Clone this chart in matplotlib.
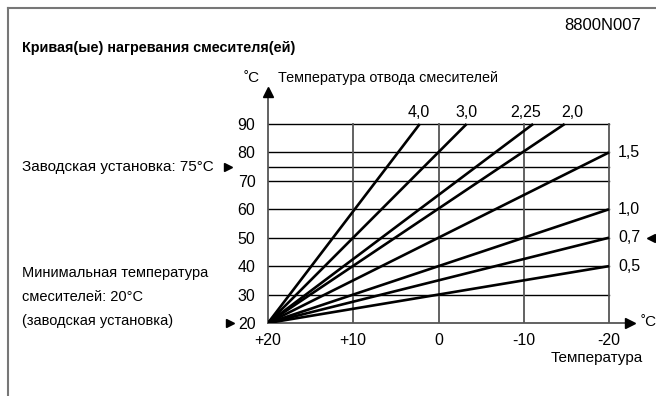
import matplotlib.pyplot as plt
from matplotlib.lines import Line2D

plt.rcParams['font.family'] = ['Liberation Sans', 'DejaVu Sans']

# кривые нагрева: подпись, конец линии (наружная темп., темп. подачи)
curve_names = ["4,0", "3,0", "2,25", "2,0", "1,5", "1,0", "0,7", "0,5"]
end_outdoor = [2.2, -3.3, -11.1, -14.8, -20, -20, -20, -20]
end_flow = [90, 90, 90, 90, 80, 60, 50, 40]
start_outdoor = 20
start_flow = 20

x_ticks = [20, 10, 0, -10, -20]
x_labels = ["+20", "+10", "0", "-10", "-20"]
y_ticks = [20, 30, 40, 50, 60, 70, 80, 90]
grid_y = [30, 40, 50, 60, 70, 75, 80, 90]
factory_flow = 75
min_flow = 20
default_curve = "0,7"

FS = 11

W, H = 656, 396
fig = plt.figure(figsize=(W / 100, H / 100), dpi=100)

# оси: +20 -> 268px, -20 -> 609px; 20 -> 323px, 90 -> 124px
ax = fig.add_axes([268 / W, (H - 323) / H, (640 - 268) / W, (323 - 85) / H])
ax.set_xlim(20, 20 - (640 - 268) / 8.525)
ax.set_ylim(20, 20 + (323 - 85) / 2.843)
for s in ax.spines.values():
    s.set_visible(False)
ax.patch.set_visible(False)
ax.set_xticks(x_ticks, x_labels)
ax.set_yticks(y_ticks, [str(v) for v in y_ticks])
ax.tick_params(length=0, labelsize=FS + 0.5)
ax.tick_params(axis='x', pad=7)
ax.tick_params(axis='y', pad=9)

# сетка
for y in grid_y:
    ax.plot([x_ticks[0], x_ticks[-1]], [y, y], color='black', lw=1.0)
for x in x_ticks[1:]:
    ax.plot([x, x], [20, 90], color='#555555', lw=1.3)

# оси со стрелками
ax.plot([20, 20], [20, 99.8], color='#555555', lw=1.3, clip_on=False)
ax.plot([20, -22.0], [20, 20], color='#555555', lw=1.3, clip_on=False)
ax.plot(20, 101.3, marker='^', ms=7, color='black', clip_on=False)
ax.plot(-22.5, 20, marker='>', ms=7, color='black', clip_on=False)

# кривые
top_nudge = {"4,0": 0.1, "3,0": 0.0, "2,25": 0.9, "2,0": -0.9}
for name, xe, ye in zip(curve_names, end_outdoor, end_flow):
    ax.plot([start_outdoor, xe], [start_flow, ye], color='black', lw=1.9,
            solid_capstyle='butt')
    if ye >= 90:
        ax.text(xe + top_nudge[name], 94.0, name, ha='center', va='center', fontsize=FS + 0.5)
    else:
        ax.text(xe - 1.05, ye, name, ha='left', va='center', fontsize=FS + 0.5)

# указатели
ax.plot(24.7, factory_flow, marker='>', ms=6, color='black', clip_on=False)
ax.plot(24.4, min_flow, marker='>', ms=6, color='black', clip_on=False)
ax.plot(-24.9, end_flow[curve_names.index(default_curve)], marker='<', ms=6,
        color='black', clip_on=False)

# подписи осей
ax.text(21.9, 106.3, "˚C", ha='center', va='center', fontsize=FS)
ax.text(18.8, 106.3, "Температура отвода смесителей", ha='left', va='center', fontsize=FS - 0.6)
ax.text(-23.7, 20.3, "˚C", ha='left', va='center', fontsize=FS)
ax.text(-18.6, 7.7, "Температура", ha='center', va='center', fontsize=FS)

# тексты слева и заголовок
fig.text(22 / W, 1 - 167 / H, "Заводская установка: 75°C", ha='left', va='center', fontsize=FS)
fig.text(22 / W, 1 - 273 / H, "Минимальная температура", ha='left', va='center', fontsize=FS - 0.5)
fig.text(22 / W, 1 - 297 / H, "смесителей: 20°C", ha='left', va='center', fontsize=FS - 0.5)
fig.text(22 / W, 1 - 321 / H, "(заводская установка)", ha='left', va='center', fontsize=FS - 0.5)
fig.text(22 / W, 1 - 48 / H, "Кривая(ые) нагревания смесителя(ей)", ha='left', va='center',
         fontsize=10.4, fontweight='bold')
fig.text(641 / W, 1 - 25 / H, "8800N007", ha='right', va='center', fontsize=12)

# рамка
fig.add_artist(Line2D([8 / W, 1], [1 - 8 / H, 1 - 8 / H], color='#777777', lw=1.5))
fig.add_artist(Line2D([8 / W, 8 / W], [0, 1 - 8 / H], color='#777777', lw=1.5))

fig.savefig('out.png', dpi=100)
